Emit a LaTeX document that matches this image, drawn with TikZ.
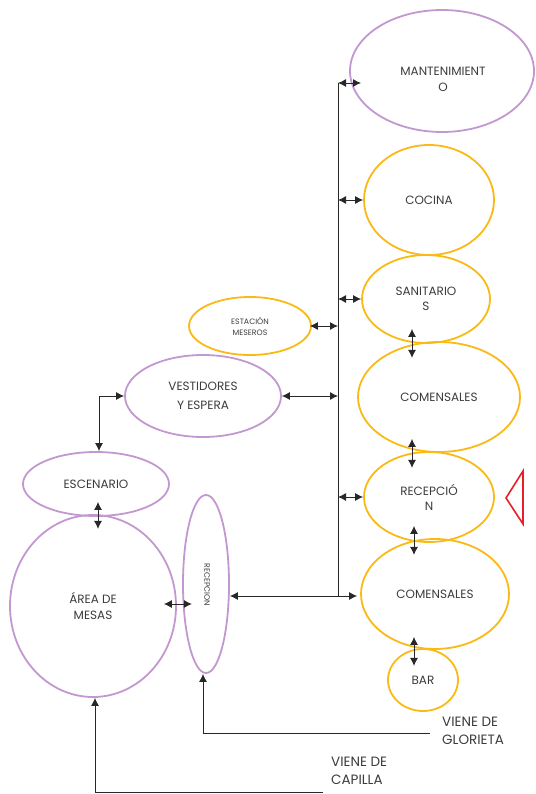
\documentclass[tikz,border=0pt]{standalone}
\usepackage{fontspec}
\setmainfont{Poppins}
\usetikzlibrary{shapes.geometric,arrows.meta}
\definecolor{lila}{RGB}{195,152,208}
\definecolor{naranja}{RGB}{250,186,22}
\definecolor{rojo}{RGB}{232,30,42}
\definecolor{linea}{RGB}{40,40,40}
\definecolor{letra}{RGB}{60,60,60}

\begin{document}
\begin{tikzpicture}[x=1pt,y=-1pt,
  zona/.style={ellipse,line width=1.8pt,inner sep=0pt,align=center,text=letra,
    font=\fontsize{12}{15}\selectfont},
  zlila/.style={zona,draw=lila},
  znar/.style={zona,draw=naranja},
  chica/.style={font=\fontsize{7.8}{11}\selectfont},
  texto/.style={text=letra,align=left,inner sep=0pt,font=\fontsize{13.5}{18}\selectfont},
  flecha/.style={linea,line width=0.9pt,-{Latex[length=8pt,width=8pt]}},
  dflecha/.style={linea,line width=0.9pt,{Latex[length=8pt,width=8pt]}-{Latex[length=8pt,width=8pt]}}]
  \useasboundingbox (0,0) rectangle (535,794);

  % columna derecha
  \node[zlila,minimum width=184pt,minimum height=122pt] (mant) at (442,71) {};
  \node[text=letra,align=center,font=\fontsize{12}{16}\selectfont] (manttxt) at (443,79) {MANTENIMIENT\\O};
  \node[znar,minimum width=130pt,minimum height=110pt] (cocina) at (429,200) {COCINA};
  \node[znar,minimum width=128pt,minimum height=88pt] (sanit) at (426,299) {SANITARIO\\S};
  \node[znar,minimum width=162pt,minimum height=110pt] (com1) at (439,397) {COMENSALES};
  \node[znar,minimum width=130pt,minimum height=90pt] (recep) at (429,497) {RECEPCIÓ\\N};
  \node[znar,minimum width=148pt,minimum height=110pt] (com2) at (435,594) {COMENSALES};
  \node[znar,minimum width=70pt,minimum height=62pt] (bar) at (423,680) {BAR};
  \draw[rojo,line width=1.6pt] (523,471) -- (506,498) -- (523,524) -- cycle;

  % lado izquierdo
  \node[znar,chica,minimum width=122pt,minimum height=58pt] (estacion) at (250,326) {ESTACIÓN\\MESEROS};
  \node[zlila,minimum width=156pt,minimum height=82pt,font=\fontsize{12}{19}\selectfont] (vest) at (203,396) {VESTIDORES\\Y ESPERA};
  \node[zlila,minimum width=146pt,minimum height=64pt] (esc) at (96,484) {ESCENARIO};
  \node[zlila,minimum width=166pt,minimum height=182pt,font=\fontsize{12}{16}\selectfont] (area) at (93,606) {ÁREA DE\\MESAS};
  \node[zlila,minimum width=46pt,minimum height=178pt] (recvert) at (206,584) {};
  \node[text=letra,chica,rotate=-90] (recvtxt) at (207,585) {RECEPCION};

  \node[texto,anchor=west] (glorieta) at (442,731) {VIENE DE\\GLORIETA};
  \node[texto,anchor=west] (capilla) at (331,771) {VIENE DE\\CAPILLA};
  \coordinate (glor) at (430,733);
  \coordinate (cap) at (323,792);

  % pasillo
  \coordinate (tope) at (338,83);
  \coordinate (base) at (338,596);
  \draw[linea,line width=0.9pt] (tope) -- (base);
  \draw[dflecha] (tope) -- +(23,0);
  \draw[dflecha] (tope |- cocina.west) -- (cocina.west);
  \draw[dflecha] (tope |- sanit.west) -- (sanit.west);
  \draw[dflecha] ([xshift=-2pt]estacion.east) -- (tope |- estacion.east);
  \draw[dflecha] (vest.east) -- (tope |- vest.east);
  \draw[dflecha] (tope |- recep.west) -- (recep.west);
  \draw[dflecha] (recvert.east |- base) -- ([xshift=-3pt]com2.west |- base);

  % entre zonas
  \draw[dflecha] ([xshift=-14pt,yshift=15pt]sanit.south) -- ([xshift=-14pt,yshift=-14pt]sanit.south);
  \draw[dflecha] ([xshift=-27pt,yshift=14pt]com1.south) -- ([xshift=-27pt,yshift=-15pt]com1.south);
  \draw[dflecha] ([xshift=-15pt,yshift=17pt]recep.south) -- ([xshift=-15pt,yshift=-12pt]recep.south);
  \draw[dflecha] ([xshift=-21pt,yshift=13pt]com2.south) -- ([xshift=-21pt,yshift=-16pt]com2.south);
  \draw[dflecha] (vest.west) -| ([xshift=3pt]esc.north);
  \draw[dflecha] ([xshift=2pt,yshift=15pt]esc.south) -- ([xshift=2pt,yshift=-12pt]esc.south);
  \draw[dflecha] ([xshift=-13pt,yshift=2pt]area.east) -- +(28,0);

  % accesos
  \draw[flecha] (glor) -| ([xshift=-3pt]recvert.south);
  \draw[flecha] (cap) -| ([xshift=2pt]area.south);
\end{tikzpicture}
\end{document}
